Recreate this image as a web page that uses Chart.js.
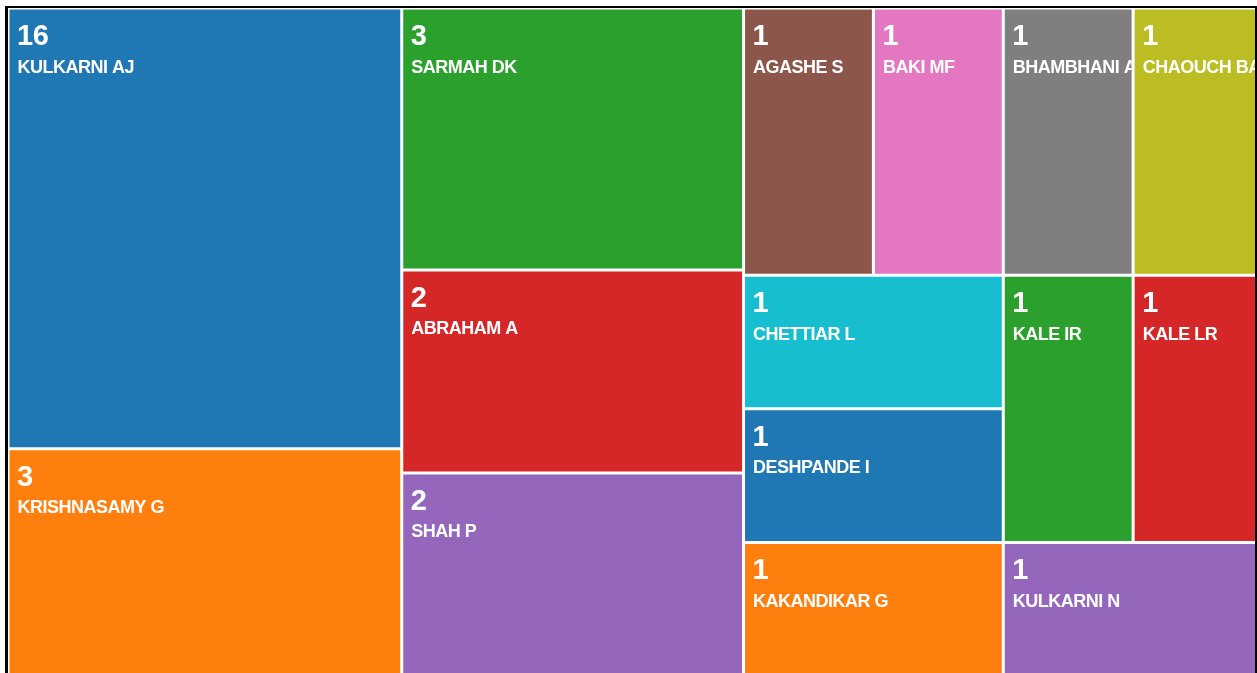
<!DOCTYPE html>
<html>
<head>
<meta charset="utf-8">
<script src="https://cdn.jsdelivr.net/npm/chart.js@4.4.1/dist/chart.umd.min.js"></script>
<style>
  html, body { margin: 0; padding: 0; background: #fff; overflow: hidden; }
  #frame {
    position: absolute; left: 5px; top: 6px; width: 1247px; height: 700px; overflow: hidden;
    border-left: 3px solid #000; border-top: 2px solid #000; border-right: 2px solid #000;
  }
  #chart { display: block; }
</style>
</head>
<body>
<div id="frame"><canvas id="chart" width="1255" height="668"></canvas></div>
<script>
// authors, sorted by count then name
const names = ['KULKARNI AJ', 'KRISHNASAMY G', 'SARMAH DK', 'ABRAHAM A', 'SHAH P',
  'AGASHE S', 'BAKI MF', 'BHAMBHANI A', 'CHAOUCH BA', 'CHETTIAR L',
  'DESHPANDE I', 'KAKANDIKAR G', 'KALE IR', 'KALE LR', 'KULKARNI N'];
const counts = [16, 3, 3, 2, 2, 1, 1, 1, 1, 1, 1, 1, 1, 1, 1];
// relative tile areas
const areas = [5, 2.58, 2.58, 2, 2, 1, 1, 1, 1, 1, 1, 1, 1, 1, 1];

const palette = ['#1f77b4', '#ff7f0e', '#2ca02c', '#d62728', '#9467bd',
  '#8c564b', '#e377c2', '#7f7f7f', '#bcbd22', '#17becf'];

// squarified layout (same steps as d3.treemapSquarify)
function squarify(values, x0, y0, x1, y1, ratio) {
  const out = new Array(values.length);
  const n = values.length;
  let i0 = 0, i1 = 0;
  let value = values.reduce((a, b) => a + b, 0);
  while (i0 < n) {
    const dx = x1 - x0, dy = y1 - y0;
    let sumValue = values[i1++];
    let minValue = sumValue, maxValue = sumValue;
    const alpha = Math.max(dy / dx, dx / dy) / (value * ratio);
    let beta = sumValue * sumValue * alpha;
    let minRatio = Math.max(maxValue / beta, beta / minValue);
    for (; i1 < n; ++i1) {
      const v = values[i1];
      sumValue += v;
      if (v < minValue) minValue = v;
      if (v > maxValue) maxValue = v;
      beta = sumValue * sumValue * alpha;
      const newRatio = Math.max(maxValue / beta, beta / minValue);
      if (newRatio > minRatio) { sumValue -= v; break; }
      minRatio = newRatio;
    }
    if (dx < dy) {
      const yb = value ? y0 + dy * sumValue / value : y1;
      let x = x0;
      for (let i = i0; i < i1; i++) {
        const w = (x1 - x0) * values[i] / sumValue;
        out[i] = { x0: x, x1: x + w, y0: y0, y1: yb };
        x += w;
      }
      y0 = yb;
    } else {
      const xb = value ? x0 + dx * sumValue / value : x1;
      let y = y0;
      for (let i = i0; i < i1; i++) {
        const h = (y1 - y0) * values[i] / sumValue;
        out[i] = { x0: x0, x1: xb, y0: y, y1: y + h };
        y += h;
      }
      x0 = xb;
    }
    value -= sumValue;
    i0 = i1;
  }
  return out;
}

class TreemapController extends Chart.DatasetController {
  parse(start, count) {
    const meta = this._cachedMeta;
    const data = this.getDataset().data;
    for (let i = start; i < start + count; i++) {
      meta._parsed[i] = { x: i, y: data[i] };
    }
  }

  update(mode) {
    const meta = this._cachedMeta;
    this.updateElements(meta.data, 0, meta.data.length, mode);
  }

  updateElements(rects, start, count, mode) {
    const meta = this._cachedMeta;
    const xs = meta.xScale, ys = meta.yScale;
    if (!xs.width || !ys.height) return;
    const W = xs.width, H = ys.height;
    const tiles = squarify(this.getDataset().data, 0, 0, W, H, (1 + Math.sqrt(5)) / 2);
    for (let i = start; i < start + count; i++) {
      const t = tiles[i];
      const left = xs.getPixelForValue(t.x0 / W);
      const right = xs.getPixelForValue(t.x1 / W);
      const top = ys.getPixelForValue(t.y0 / H);
      const bottom = ys.getPixelForValue(t.y1 / H);
      Object.assign(rects[i], {
        x: (left + right) / 2,
        y: top,
        base: bottom,
        width: right - left,
        height: bottom - top,
        horizontal: false,
        inflateAmount: 0,
        enableBorderRadius: true,
        borderSkipped: {},
        options: this.resolveDataElementOptions(i, mode)
      });
    }
  }

  draw() {
    super.draw();
    const ctx = this._ctx;
    const ds = this.getDataset();
    const labels = this.chart.data.labels;
    const bw = 1.5;
    this._cachedMeta.data.forEach((el, i) => {
      const left = el.x - el.width / 2, top = el.y;
      ctx.save();
      ctx.beginPath();
      ctx.rect(left + bw, top + bw, el.width - 2 * bw, el.base - el.y - 2 * bw);
      ctx.clip();
      ctx.fillStyle = '#fff';
      ctx.textAlign = 'left';
      ctx.textBaseline = 'alphabetic';
      ctx.letterSpacing = '-0.5px';
      ctx.font = 'bold 29px "Liberation Sans", Arial, sans-serif';
      ctx.fillText(String(ds.counts[i]), left + 9, top + 37);
      ctx.font = 'bold 18px "Liberation Sans", Arial, sans-serif';
      ctx.fillText(labels[i], left + 9.5, top + 64.5);
      ctx.restore();
    });
  }
}
TreemapController.id = 'treemap';
TreemapController.defaults = { dataElementType: 'bar', datasetElementType: false };
TreemapController.overrides = { scales: { x: { type: 'linear' }, y: { type: 'linear' } } };
Chart.register(TreemapController);

new Chart(document.getElementById('chart'), {
  type: 'treemap',
  data: {
    labels: names,
    datasets: [{
      label: 'Publications',
      data: areas,
      counts: counts,
      backgroundColor: names.map((n, i) => palette[i % palette.length]),
      borderColor: '#fff',
      borderWidth: 1.5
    }]
  },
  options: {
    responsive: false,
    animation: false,
    devicePixelRatio: 1,
    events: [],
    layout: { padding: 0 },
    plugins: { legend: { display: false }, tooltip: { enabled: false }, title: { display: false } },
    scales: {
      x: { type: 'linear', min: 0, max: 1, display: false },
      y: { type: 'linear', min: 0, max: 1, reverse: true, display: false }
    }
  }
});
</script>
</body>
</html>
